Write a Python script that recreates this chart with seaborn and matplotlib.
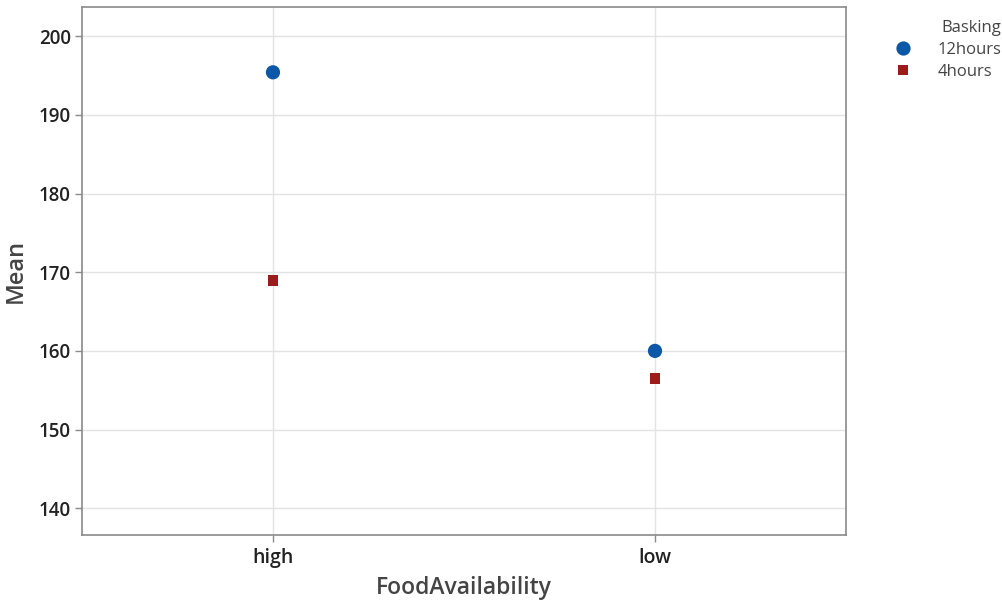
import matplotlib
matplotlib.use("Agg")
import matplotlib.pyplot as plt
import seaborn as sns
import pandas as pd

# Group means of the two-factor design
food_levels = ["high", "high", "low", "low"]
basking = ["12hours", "4hours", "12hours", "4hours"]
means = [195.4, 168.9, 160.0, 156.5]

y_ticks = [140, 150, 160, 170, 180, 190, 200]

df = pd.DataFrame({"FoodAvailability": food_levels, "Basking": basking, "Mean": means})

sns.set_theme(style="white")
plt.rcParams["font.family"] = ["Open Sans", "DejaVu Sans"]

fig = plt.figure(figsize=(10.02, 6.04), dpi=100)
ax = fig.add_axes([0.0818, 0.1142, 0.7625, 0.8742])

palette = {"12hours": "#0B57A8", "4hours": "#9E1B1B"}
markers = {"12hours": "o", "4hours": "s"}
sizes = {"12hours": 105, "4hours": 62}

sns.scatterplot(data=df, x="FoodAvailability", y="Mean", hue="Basking",
                style="Basking", size="Basking", palette=palette,
                markers=markers, sizes=sizes, linewidth=0, ax=ax, zorder=3)

ax.set_xlim(-0.5, 1.5)
ax.set_ylim(136.6, 203.7)
ax.set_yticks(y_ticks)

ax.grid(True, color="#e3e3e3", linewidth=1.0)
ax.set_axisbelow(True)
for sp in ax.spines.values():
    sp.set_color("#8a8a8a")
    sp.set_linewidth(1.2)

ax.tick_params(axis="both", which="both", length=5, width=1, color="#8a8a8a",
               labelcolor="#222222", bottom=True, left=True, pad=3)
ax.tick_params(axis="y", labelsize=13.5)
ax.tick_params(axis="x", labelsize=14, pad=4)
for lab in ax.get_xticklabels() + ax.get_yticklabels():
    lab.set_fontweight("semibold")

ax.set_xlabel("FoodAvailability", fontsize=16.5, color="#444444",
              fontweight="semibold", labelpad=6)
ax.set_ylabel("Mean", fontsize=17, color="#444444",
              fontweight="semibold", labelpad=8)

leg = ax.legend(title="Basking", loc="upper left", bbox_to_anchor=(1.035, 1.0),
                frameon=False, fontsize=12, title_fontsize=12,
                alignment="right", handletextpad=1.1, labelspacing=0.35,
                borderaxespad=0.4)
leg.get_title().set_color("#444444")
for t in leg.get_texts():
    t.set_color("#444444")

fig.savefig("out.png", dpi=100)
